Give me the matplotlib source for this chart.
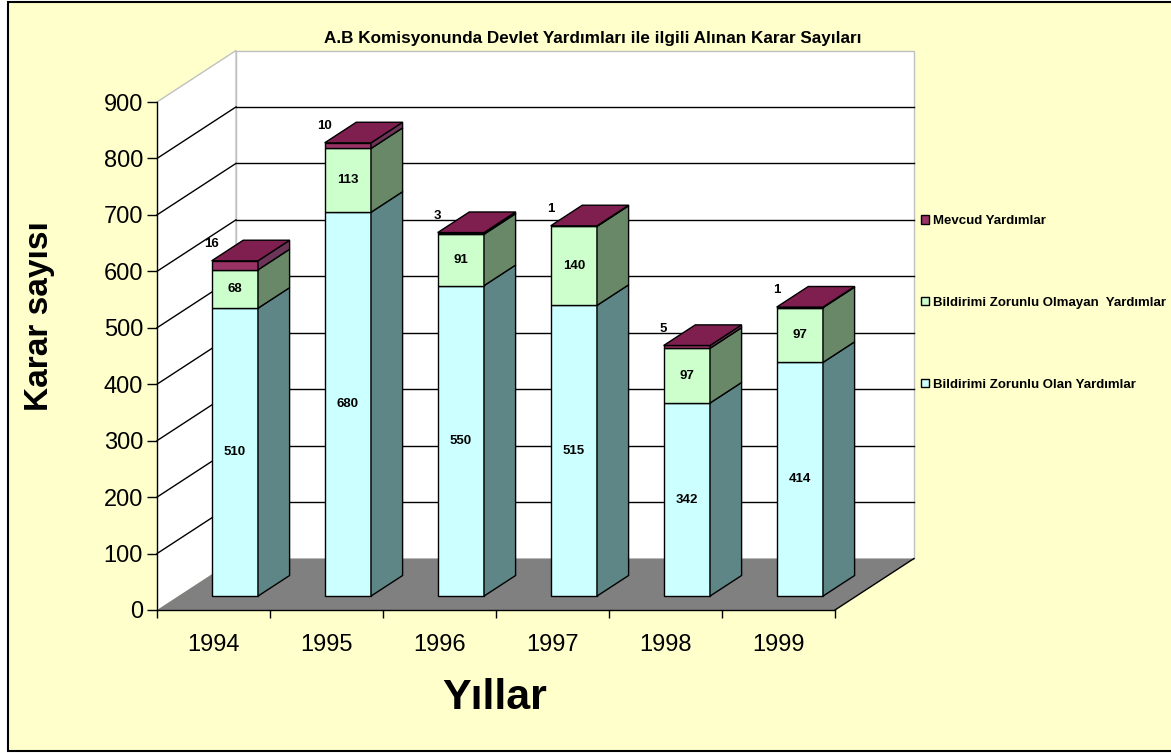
import matplotlib
matplotlib.use("Agg")
import matplotlib.pyplot as plt
from matplotlib.patches import Polygon, Rectangle, Patch

plt.rcParams['font.family'] = ['Liberation Sans', 'DejaVu Sans']

# ---------------- data ----------------
years = ["1994", "1995", "1996", "1997", "1998", "1999"]
zorunlu_olan = [510, 680, 550, 515, 342, 414]
zorunlu_olmayan = [68, 113, 91, 140, 97, 97]
mevcud = [16, 10, 3, 1, 5, 1]
series_names = ["Bildirimi Zorunlu Olan Yardımlar",
                "Bildirimi Zorunlu Olmayan  Yardımlar",
                "Mevcud Yardımlar"]
y_ticks = [0, 100, 200, 300, 400, 500, 600, 700, 800, 900]
title = "A.B Komisyonunda Devlet Yardımları ile ilgili Alınan Karar Sayıları"
xlabel = "Yıllar"
ylabel = "Karar sayısı"

# ---------------- style ----------------
front_colors = ["#CCFFFF", "#CCFFCC", "#993366"]
side_colors = ["#5E8686", "#688868", "#6C3456"]
top_color = "#7E1F4F"
W, H = 1171, 753
fig = plt.figure(figsize=(W / 100, H / 100), dpi=100, facecolor="white")

# yellow chart area with black border
fig.add_artist(Rectangle((7.5 / W, 2 / H), 1.5, (749.5) / H, transform=fig.transFigure,
                         facecolor="#FFFFCC", edgecolor="black", lw=1.5, zorder=-10))

ax = fig.add_axes([157 / W, (H - 610) / H, 678 / W, 508 / H])
ax.patch.set_visible(False)
n = len(years)
ymax = y_ticks[-1]
ax.set_xlim(0, n)
ax.set_ylim(0, ymax)

DX = 79 / 113.0          # depth offset in category units
DY = 51.5 / (508 / ymax)  # depth offset in value units
z0, z1 = 0.27, 0.67
bw = 0.41

# walls and floor
ax.add_patch(Rectangle((DX, DY), n, ymax, facecolor="white", edgecolor="#C0C0C0",
                       lw=1, zorder=0.5, clip_on=False))
ax.add_patch(Polygon([(0, 0), (0, ymax), (DX, ymax + DY), (DX, DY)], closed=True,
                     facecolor="white", edgecolor="none", zorder=0.6, clip_on=False))
ax.plot([0, DX, DX], [ymax, ymax + DY, DY], color="#C0C0C0", lw=1, zorder=0.7, clip_on=False)
for v in y_ticks[1:-1]:
    ax.plot([DX, n + DX], [v + DY, v + DY], color="black", lw=1, zorder=0.8, clip_on=False)
    ax.plot([0, DX], [v, v + DY], color="black", lw=1, zorder=0.8, clip_on=False)
ax.add_patch(Polygon([(0, 0), (n, 0), (n + DX, DY), (DX, DY)], closed=True,
                     facecolor="#808080", edgecolor="none", zorder=0.9, clip_on=False))
ax.plot([n, n + DX], [0, DY], color="black", lw=1, zorder=1, clip_on=False)

# bars
series = [zorunlu_olan, zorunlu_olmayan, mevcud]
dz = z1 - z0
for i in range(n):
    cx = i + 0.5 + z0 * DX
    xl, xr = cx - bw / 2, cx + bw / 2
    base = 0.0
    for s, vals in enumerate(series):
        h = vals[i]
        b = base + z0 * DY
        ax.bar(cx, h, width=bw, bottom=b, color=front_colors[s], edgecolor="black",
               lw=1, zorder=3, clip_on=False)
        ax.add_patch(Polygon([(xr, b), (xr, b + h), (xr + dz * DX, b + h + dz * DY),
                              (xr + dz * DX, b + dz * DY)], closed=True,
                             facecolor=side_colors[s], edgecolor="black", lw=1,
                             zorder=3, clip_on=False))
        if s < 2:
            ax.text(cx, b + h / 2, str(h), ha="center", va="center", fontsize=9.5,
                    fontweight="bold", zorder=5)
        else:
            ax.text(xl, b + h + 30, str(h), ha="center", va="center", fontsize=9.5,
                    fontweight="bold", zorder=5)
        base += h
    T = base + z0 * DY
    ax.add_patch(Polygon([(xl, T), (xr, T), (xr + dz * DX, T + dz * DY),
                          (xl + dz * DX, T + dz * DY)], closed=True,
                         facecolor=top_color, edgecolor="black", lw=1,
                         zorder=3.5, clip_on=False))

# axes
for sp in ["top", "right"]:
    ax.spines[sp].set_visible(False)
for sp in ["left", "bottom"]:
    ax.spines[sp].set_linewidth(1)
    ax.spines[sp].set_zorder(2)
ax.set_yticks(y_ticks)
ax.set_yticklabels([str(v) for v in y_ticks], fontsize=17)
ax.tick_params(axis="y", length=7, width=1, pad=3)
ax.set_xticks(range(n + 1))
ax.set_xticklabels([""] * (n + 1))
ax.tick_params(axis="x", which="major", length=6, width=1)
ax.set_xticks([i + 0.5 for i in range(n)], minor=True)
ax.set_xticklabels(years, minor=True, fontsize=17)
ax.tick_params(axis="x", which="minor", length=0, pad=17)

fig.text(40 / W, 1 - 316 / H, ylabel, rotation=90, ha="center", va="center",
         fontsize=24, fontweight="bold")
fig.text(495 / W, 1 - 698 / H, xlabel, ha="center", va="center",
         fontsize=31, fontweight="bold")
fig.text(593 / W, 1 - 38 / H, title, ha="center", va="center",
         fontsize=12.3, fontweight="bold")

handles = [Patch(facecolor=front_colors[s], edgecolor="black", lw=1) for s in (2, 1, 0)]
labels = [series_names[s] for s in (2, 1, 0)]
fig.legend(handles, labels, loc="upper left", bbox_to_anchor=(921 / W, 1 - 215 / H),
           frameon=False, borderaxespad=0, borderpad=0, handlelength=0.6,
           handleheight=0.6, handletextpad=0.3, labelspacing=5.3,
           prop={"size": 9.5, "weight": "bold"})

fig.savefig("out.png", dpi=100, facecolor=fig.get_facecolor())
